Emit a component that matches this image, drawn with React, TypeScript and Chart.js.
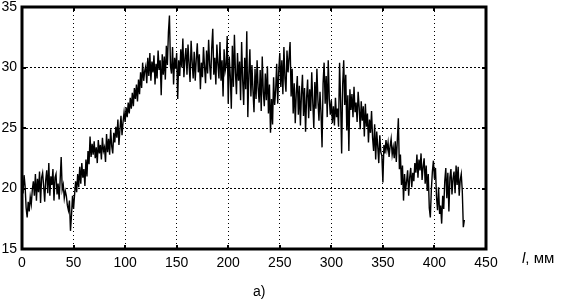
import React, { useEffect, useRef } from "react";
import { Chart, registerables } from "chart.js";

Chart.register(...registerables);

// sampling step along l, mm
const STEP_MM = 1;

// measured signal, mm 0..99
const signalA = [
  20.8, 19.6, 21.1, 20.2, 18.4, 17.6, 18.9, 18.1, 19.3, 18.7,
  19.9, 20.6, 19.4, 21.2, 19.0, 20.8, 19.7, 21.4, 18.8, 20.9,
  21.3, 20.2, 18.9, 20.7, 21.5, 19.6, 22.1, 19.4, 21.0, 20.3,
  21.6, 19.0, 20.9, 21.2, 19.5, 20.4, 19.1, 20.7, 22.6, 19.9,
  20.3, 19.2, 19.8, 19.4, 18.6, 18.2, 19.0, 16.5, 17.8, 19.4,
  18.3, 19.5, 20.6, 19.7, 21.2, 20.1, 21.8, 20.4, 22.1, 20.9,
  21.6, 20.2, 22.4, 21.0, 23.1, 22.0, 24.3, 22.6, 23.7, 22.8,
  23.9, 22.5, 23.4, 22.1, 24.0, 22.9, 23.6, 22.4, 24.2, 23.1,
  23.4, 22.2, 24.5, 23.0, 24.1, 22.8, 24.9, 23.5, 22.9, 24.6,
  23.8, 25.1, 24.2, 25.7, 23.6, 24.9, 26.0, 24.4, 25.5, 26.3,
];
// mm 100..199
const signalB = [
  25.5, 26.7, 25.9, 27.1, 26.2, 27.5, 26.6, 27.9, 26.8, 28.3,
  27.4, 28.6, 27.2, 29.0, 27.8, 29.6, 28.3, 30.4, 28.9, 29.7,
  30.1, 28.7, 30.8, 29.3, 31.2, 28.9, 30.5, 29.6, 31.0, 28.6,
  30.3, 29.1, 31.4, 29.8, 30.6, 27.7, 31.1, 29.4, 30.9, 29.0,
  31.8, 30.2, 32.9, 34.3, 30.1, 29.5, 31.7, 28.6, 30.8, 29.9,
  31.2, 27.4, 30.6, 29.3, 31.5, 30.0, 32.4, 29.2, 30.7, 31.6,
  29.4, 31.9, 30.3, 28.8, 32.2, 30.5, 29.1, 31.3, 28.9, 30.7,
  32.0, 29.6, 31.1, 28.2, 30.4, 29.2, 31.7, 30.1, 28.7, 31.4,
  29.5, 32.3, 30.2, 29.0, 31.6, 33.2, 29.4, 30.8, 28.6, 31.9,
  30.3, 29.1, 32.1, 28.9, 30.6, 27.6, 31.5, 29.7, 30.2, 32.6,
];
// mm 200..299
const signalC = [
  27.0, 30.9, 29.3, 26.6, 31.8, 28.4, 32.7, 29.6, 27.8, 31.2,
  28.9, 30.5, 27.3, 32.1, 29.0, 26.9, 30.8, 28.2, 33.0, 25.9,
  29.4, 31.5, 27.6, 30.2, 28.1, 26.3, 29.9, 27.4, 30.6, 28.3,
  27.1, 29.8, 26.4, 30.9, 28.0, 26.8, 29.5, 27.3, 30.1, 26.2,
  28.6, 24.6, 27.4, 25.3, 29.2, 26.9, 28.1, 30.3, 27.0, 29.7,
  31.2, 28.4, 30.6, 27.8, 31.7, 29.1, 28.0, 31.4, 29.6, 30.8,
  32.1, 27.6, 29.9, 26.2, 28.7, 25.4, 27.9, 29.3, 26.1, 28.5,
  25.2, 27.8, 29.4, 26.0, 28.3, 24.7, 27.5, 29.0, 25.8, 28.2,
  26.4, 29.6, 27.1, 25.0, 28.8, 26.6, 29.9, 27.3, 25.6, 28.0,
  26.2, 23.4, 28.7, 30.4, 27.0, 29.3, 25.9, 30.6, 27.4, 26.1,
];
// mm 300..429
const signalD = [
  27.3, 25.4, 26.8, 25.2, 27.5, 25.9, 26.6, 25.1, 30.4, 27.2,
  22.9, 28.6, 30.6, 26.9, 29.4, 24.8, 27.7, 23.1, 28.2, 26.5,
  27.8, 25.9, 28.4, 26.3, 27.1, 25.5, 28.0, 26.7, 24.9, 27.2,
  25.6, 26.8, 24.3, 27.0, 25.1, 26.2, 23.8, 25.7, 24.6, 26.4,
  24.2, 23.1, 25.3, 22.4, 24.7, 23.5, 22.1, 24.4, 23.0, 22.7,
  20.5, 23.6, 22.9, 24.0, 23.2, 23.8, 22.6, 23.5, 24.1, 22.8,
  23.4, 22.5, 23.9, 22.2, 24.0, 25.8, 21.6, 22.8, 20.3, 21.9,
  19.0, 21.2, 19.8, 20.6, 21.5, 19.4, 20.9, 21.7, 20.1, 21.3,
  20.6, 22.1, 21.3, 22.8, 20.9, 22.4, 21.5, 22.9, 20.7, 21.8,
  22.5, 20.4, 21.9, 19.8, 21.2, 18.4, 17.6, 19.9, 21.4, 22.3,
  20.8, 21.7, 19.3, 18.2, 20.1, 17.9, 18.6, 17.1, 19.4, 18.3,
  20.6, 21.7, 19.2, 21.3, 18.1, 20.9, 21.6, 19.5, 20.8, 21.4,
  19.6, 21.9, 20.3, 21.8, 19.4, 20.7, 21.2, 19.8, 16.8, 17.4,
];

const xTicks = [0, 50, 100, 150, 200, 250, 300, 350, 400, 450];
const yTicks = [15, 20, 25, 30, 35];
const xAxisLabelItalic = "l";
const xAxisLabelRest = ", мм";
const panelLabel = "а)";

const FONT = "'Liberation Sans', Arial, sans-serif";

const framePlugin = {
  id: "frame",
  afterDraw(chart: any) {
    const { ctx, chartArea } = chart;
    const { left, right, top, bottom } = chartArea;
    ctx.save();
    ctx.strokeStyle = "#000";
    ctx.lineWidth = 3;
    ctx.setLineDash([]);
    ctx.strokeRect(left, top, right - left, bottom - top);
    ctx.lineWidth = 2;
    const xs = chart.scales.x;
    const ys = chart.scales.y;
    xTicks.forEach((t) => {
      const px = Math.round(xs.getPixelForValue(t));
      ctx.beginPath();
      ctx.moveTo(px, bottom);
      ctx.lineTo(px, bottom - 4);
      ctx.moveTo(px, top);
      ctx.lineTo(px, top + 4);
      ctx.stroke();
    });
    yTicks.forEach((t) => {
      const py = Math.round(ys.getPixelForValue(t));
      ctx.beginPath();
      ctx.moveTo(left, py);
      ctx.lineTo(left + 4, py);
      ctx.moveTo(right, py);
      ctx.lineTo(right - 4, py);
      ctx.stroke();
    });
    ctx.restore();
  },
};

export default function App() {
  const ref = useRef<HTMLCanvasElement | null>(null);

  useEffect(() => {
    if (!ref.current) return;
    const values = [...signalA, ...signalB, ...signalC, ...signalD];
    const points = values.map((v, i) => ({ x: i * STEP_MM, y: v }));
    const chart = new Chart(ref.current, {
      type: "line",
      data: {
        datasets: [
          {
            data: points,
            borderColor: "#000",
            borderWidth: 1.4,
            pointRadius: 0,
            tension: 0,
            fill: false,
          },
        ],
      },
      options: {
        animation: false,
        responsive: false,
        layout: { padding: { left: 0, right: 82, top: 0, bottom: 25 } },
        plugins: {
          legend: { display: false },
          tooltip: { enabled: false },
        },
        scales: {
          x: {
            type: "linear",
            min: 0,
            max: 450,
            afterBuildTicks: (s: any) => {
              s.ticks = xTicks.map((v) => ({ value: v }));
            },
            afterFit: (s: any) => {
              s.height = 30;
            },
            grid: { color: "#000", lineWidth: 1, drawTicks: false },
            border: { display: false, dash: [1, 3] },
            ticks: {
              color: "#000",
              padding: 7,
              maxRotation: 0,
              font: { family: FONT, size: 14, lineHeight: 1 },
            },
          },
          y: {
            type: "linear",
            min: 15,
            max: 35,
            afterBuildTicks: (s: any) => {
              s.ticks = yTicks.map((v) => ({ value: v }));
            },
            afterFit: (s: any) => {
              s.width = 22;
              s.paddingTop = 7;
              s.paddingBottom = 7;
            },
            grid: { color: "#000", lineWidth: 1, drawTicks: false },
            border: { display: false, dash: [2, 2] },
            ticks: {
              color: "#000",
              padding: 5,
              font: { family: FONT, size: 14, lineHeight: 1 },
            },
          },
        },
      },
      plugins: [framePlugin],
    });
    return () => chart.destroy();
  }, []);

  return (
    <div
      style={{
        position: "fixed",
        left: 0,
        top: 0,
        width: 568,
        height: 304,
        background: "#fff",
      }}
    >
      <canvas ref={ref} width={568} height={304} style={{ display: "block" }} />
      <span
        style={{
          position: "absolute",
          left: 522,
          top: 250,
          fontFamily: FONT,
          fontSize: 15,
          lineHeight: "15px",
          color: "#000",
          whiteSpace: "nowrap",
        }}
      >
        <i>{xAxisLabelItalic}</i>
        {xAxisLabelRest}
      </span>
      <span
        style={{
          position: "absolute",
          left: 253,
          top: 284,
          fontFamily: FONT,
          fontSize: 14,
          lineHeight: "14px",
          color: "#000",
        }}
      >
        {panelLabel}
      </span>
    </div>
  );
}
